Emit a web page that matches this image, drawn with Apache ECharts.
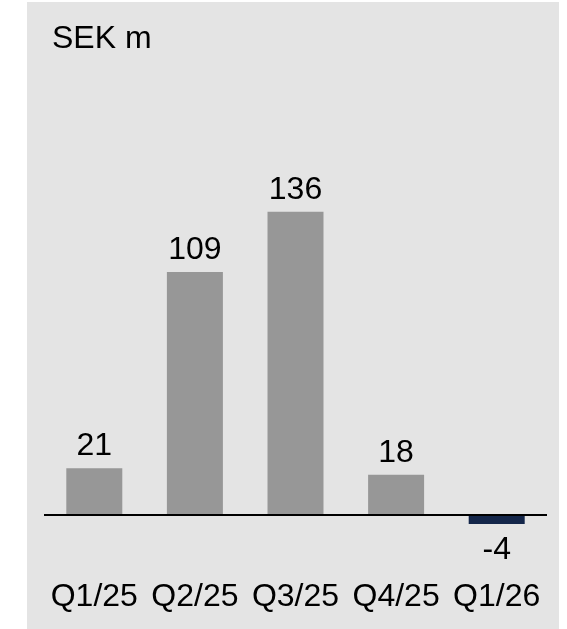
<!DOCTYPE html>
<html>
<head>
<meta charset="utf-8">
<script src="https://cdn.jsdelivr.net/npm/echarts@6/dist/echarts.min.js"></script>
<style>
  html, body { margin: 0; padding: 0; background: #ffffff; }
  #chart { width: 567px; height: 629px; }
</style>
</head>
<body>
<div id="chart"></div>
<script>
// Quarterly result, SEK m
const quarters = ['Q1/25', 'Q2/25', 'Q3/25', 'Q4/25', 'Q1/26'];
const values = [21, 109, 136, 18, -4];
const unitLabel = 'SEK m';

const FONT = '"Liberation Sans", Arial, sans-serif';
const FS = 32;
const barGrey = '#979797';
const barNavy = '#14264a';

const chart = echarts.init(document.getElementById('chart'), null, { renderer: 'canvas' });

const seriesData = values.map(v => ({
  value: v,
  itemStyle: { color: v < 0 ? barNavy : barGrey },
  label: v < 0 ? { position: 'bottom', distance: 10 } : { position: 'top', distance: 6 }
}));

chart.setOption({
  animation: false,
  backgroundColor: '#ffffff',
  graphic: [{
    type: 'rect',
    z: -10,
    shape: { x: 27, y: 2, width: 532, height: 627 },
    style: { fill: '#e4e4e4' }
  }],
  title: {
    text: unitLabel,
    left: 47,
    top: 18,
    textStyle: { fontFamily: FONT, fontSize: FS, fontWeight: 'normal', color: '#000' }
  },
  grid: { left: 44, right: 20, top: 69, bottom: 69.4 },
  xAxis: {
    type: 'category',
    data: quarters,
    axisLine: { show: false, onZero: false },
    axisTick: { show: false },
    axisLabel: { fontFamily: FONT, fontSize: FS, color: '#000', margin: 22, interval: 0 }
  },
  yAxis: {
    type: 'value',
    min: -20,
    max: 200,
    show: false,
    splitLine: { show: false }
  },
  series: [{
    type: 'bar',
    data: seriesData,
    barWidth: 56,
    label: {
      show: true,
      fontFamily: FONT,
      fontSize: FS,
      color: '#000'
    },
    markLine: {
      silent: true,
      symbol: 'none',
      label: { show: false },
      lineStyle: { color: '#000', width: 2, type: 'solid' },
      data: [{ yAxis: 0 }]
    }
  }]
});
</script>
</body>
</html>
